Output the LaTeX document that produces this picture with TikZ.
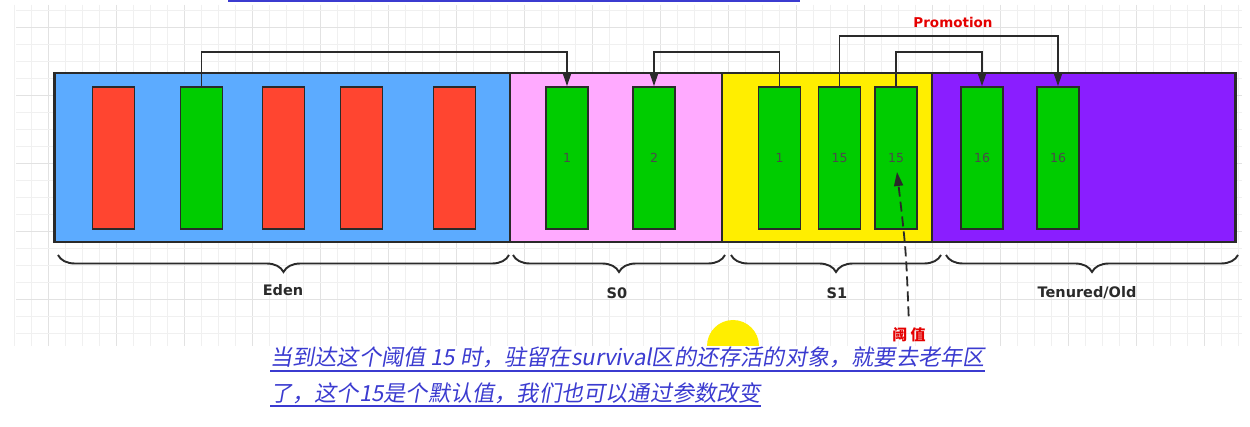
\documentclass[tikz,border=0pt]{standalone}
\usepackage{fontspec}
\setmainfont{DejaVu Sans}
\newfontfamily\cjk[FakeSlant=0.18]{Noto Sans CJK SC}
\newfontfamily\cjkup{Noto Sans CJK SC}
\usetikzlibrary{arrows.meta,decorations.pathreplacing}
\definecolor{edenblue}{HTML}{5CABFF}
\definecolor{szpink}{HTML}{FFAAFF}
\definecolor{soyellow}{HTML}{FFEE00}
\definecolor{oldpurple}{HTML}{8A1EFF}
\definecolor{objred}{HTML}{FF4530}
\definecolor{objgreen}{HTML}{00CC00}
\definecolor{linkblue}{HTML}{3B3BD0}
\definecolor{gridminor}{HTML}{F0F0F0}
\definecolor{gridmajor}{HTML}{E2E2E2}
\definecolor{ink}{HTML}{2A2A2A}

\begin{document}
\begin{tikzpicture}[x=1pt,y=-1pt,
  sect/.style={draw=ink, line width=1.2pt, minimum height=168pt, inner sep=0pt},
  blk/.style={draw=ink, line width=1.6pt, minimum width=42pt, minimum height=142pt, inner sep=0pt, font=\fontsize{12.5}{12.5}\selectfont, text=ink!85},
  conn/.style={draw=ink, line width=1.6pt, -{Triangle[length=14pt,width=9pt]}},
  regbrace/.style={draw=ink, line width=1.9pt, decorate, decoration={brace, mirror, amplitude=17pt}},
  regname/.style={font=\bfseries\fontsize{14.5}{14.5}\selectfont, text=ink}]
\useasboundingbox (0,0) rectangle (1250,427);
\fill[white] (0,0) rectangle (1250,427);
% grid paper
\foreach \i in {0,...,72} {
  \pgfmathsetmacro\gx{14.3+17*\i}
  \pgfmathtruncatemacro\gm{mod(\i+2,4)}
  \ifnum\gm=0 \draw[gridmajor, line width=1pt] (\gx,5) -- (\gx,346);
  \else \draw[gridminor, line width=1pt] (\gx,5) -- (\gx,346); \fi
}
\foreach \j in {0,...,19} {
  \pgfmathsetmacro\gy{10.3+17*\j}
  \pgfmathtruncatemacro\gm{mod(\j+3,4)}
  \ifnum\gm=0 \draw[gridmajor, line width=1pt] (16,\gy) -- (1242,\gy);
  \else \draw[gridminor, line width=1pt] (16,\gy) -- (1242,\gy); \fi
}
\draw[linkblue, line width=2pt] (228,1) -- (800,1);

% regions
\node[sect, fill=edenblue, minimum width=455pt] (eden) at (282.5,157.5) {};
\node[sect, fill=szpink, minimum width=212pt] (s0) at (616,157.5) {};
\node[sect, fill=soyellow, minimum width=210pt] (s1) at (827,157.5) {};
\node[sect, fill=oldpurple, minimum width=303pt] (old) at (1083.5,157.5) {};
\draw[ink, line width=2pt] (eden.north west) rectangle (old.south east);

% objects
\node[blk, fill=objred] (e1) at (113.5,158) {};
\node[blk, fill=objgreen] (e2) at (201.5,158) {};
\node[blk, fill=objred] (e3) at (283.5,158) {};
\node[blk, fill=objred] (e4) at (361.5,158) {};
\node[blk, fill=objred] (e5) at (454.5,158) {};
\node[blk, fill=objgreen] (a1) at (567,158) {1};
\node[blk, fill=objgreen] (a2) at (654,158) {2};
\node[blk, fill=objgreen] (b1) at (779.5,158) {1};
\node[blk, fill=objgreen] (b2) at (839.5,158) {15};
\node[blk, fill=objgreen] (b3) at (896,158) {15};
\node[blk, fill=objgreen] (t1) at (982,158) {16};
\node[blk, fill=objgreen] (t2) at (1058,158) {16};

% copying between spaces
\draw[conn] (e2.north) -- ++(0,-34) -| (a1.north);
\draw[conn] (b1.north) -- ++(0,-34) -| (a2.north);
\draw[conn] (b3.north) -- ++(0,-34) -| (t1.north);
\draw[conn] (b2.north) -- ++(0,-50) -| (t2.north);
\node[font=\bfseries\fontsize{13.5}{13.5}\selectfont, text=red!90!black] (promo) at (953,22) {Promotion};

% braces and names
\draw[regbrace] (58,255) -- (509,255);
\draw[regbrace] (513,255) -- (725,255);
\draw[regbrace] (731,255) -- (941,255);
\draw[regbrace] (946,255) -- (1238,255);
\node[regname] (edenname) at (283,290) {Eden};
\node[regname] (s0name) at (617,293) {S0};
\node[regname] (s1name) at (837,293) {S1};
\node[regname] (oldname) at (1087,293) {Tenured/Old};

% threshold
\fill[soyellow] (707,346) arc[start angle=180, end angle=360, radius=26];
\node[font=\cjkup\bfseries\fontsize{15}{15}\selectfont, text=red!90!black] (thr) at (909,335) {阈 值};
\coordinate (thrtip) at (897,172);
\draw[ink, line width=1.8pt, dash pattern=on 10pt off 5pt, -{Triangle[length=14pt,width=9pt]}, shorten <=8pt]
  (thr.north) .. controls (906,250) .. (thrtip);

% note below
\node[anchor=base west, inner sep=0pt, text=linkblue, font=\cjk\fontsize{22.2}{22.2}\selectfont] (note1) at (270,366)
  {当到达这个阈值 15 时，驻留在survival区的还存活的对象，就要去老年区};
\node[anchor=base west, inner sep=0pt, text=linkblue, font=\cjk\fontsize{22.2}{22.2}\selectfont] (note2) at (270,401)
  {了，这个15是个默认值，我们也可以通过参数改变};
\draw[linkblue, line width=1.3pt] ([yshift=-5pt]note1.base west) -- ([yshift=-5pt]note1.base east);
\draw[linkblue, line width=1.3pt] ([yshift=-5pt]note2.base west) -- ([yshift=-5pt]note2.base east);
\end{tikzpicture}
\end{document}
